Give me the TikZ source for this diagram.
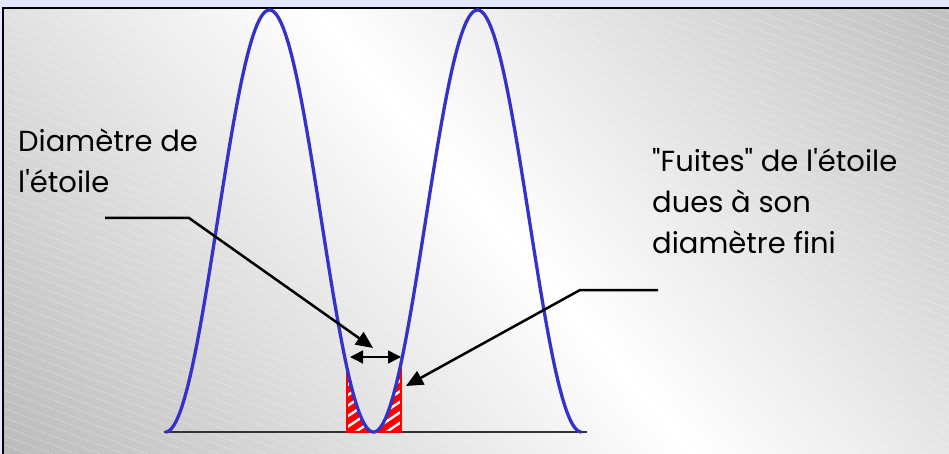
\documentclass[tikz,border=0pt]{standalone}
\usepackage{fontspec}
\setmainfont{Poppins}
\usetikzlibrary{arrows.meta}
\definecolor{topblue}{RGB}{226,232,252}
\definecolor{curveblue}{RGB}{51,51,204}
\definecolor{axisgray}{RGB}{50,50,50}
\pgfdeclarefunctionalshading{bgshade}{\pgfpointorigin}{\pgfpoint{100bp}{100bp}}{}{
0.002254 mul exch 0.005615 mul add 0.4017 sub abs 1.3 mul 1 exch sub dup 0.58 lt {pop 0.58} if dup dup
}
\tikzset{
  curveline/.style={draw=curveblue, line width=3.3pt, line join=round},
  bgline/.style={draw=white, line width=0.8pt, opacity=0.4, dash pattern=on 1.5pt off 1.5pt},
  pointer/.style={draw=black, line width=2.5pt, -{Triangle[length=17pt,width=15pt]}},
  dimarrow/.style={draw=black, line width=1.5pt, {Triangle[length=13pt,width=13pt]}-{Triangle[length=13pt,width=13pt]}},
  axisline/.style={draw=axisgray, line width=1.2pt},
  label/.style={inner sep=0pt, anchor=base west, font=\fontsize{29pt}{41pt}\selectfont},
  declare function={fr(\t)=432-422*sin((\t-165.5)*0.865385)*sin((\t-165.5)*0.865385);},
}
\begin{document}
\begin{tikzpicture}[x=1pt,y=-1pt]
\useasboundingbox (0,0) rectangle (949,454);
% outer strip
\fill[topblue] (0,0) rectangle (949,454);
% shaded panel
\shade[shading=bgshade] (3,8) rectangle (949,454);
\begin{scope}
  \clip (3,8) rectangle (949,454);
  \foreach \c in {-420,-411,...,460} {
    \draw[bgline] (3,\c) -- (949,\c+360);
  }
\end{scope}
\draw[line width=2.5pt] (3,456) -- (3,8) -- (951,8);
% axis
\coordinate (ax0) at (164,432);
\coordinate (ax1) at (587,432);
\draw[axisline] (ax0) -- (ax1);
% hatched leak regions
\begin{scope}
  \clip (347,432) -- plot[domain=347:401,samples=80] (\x,{fr(\x)}) -- (401,432) -- cycle;
  \fill[white] (340,360) rectangle (410,440);
  \foreach \c in {360,370.5,...,530} {
    \draw[red, line width=6pt] (330,\c) -- (420,\c-61);
  }
\end{scope}
\draw[red, line width=1.2pt] (347,368) -- (347,432) -- (401,432) -- (401,368);
% fringe curve
\draw[curveline] plot[domain=165.5:581.5,samples=300] (\x,{fr(\x)});
% double arrow (diameter)
\coordinate (dl) at (350,357);
\coordinate (dr) at (401,357);
\draw[dimarrow] (dl) -- (dr);
% pointers
\coordinate (lstart) at (105,218);
\coordinate (lbend) at (189,218);
\coordinate (ltip) at (373,348);
\draw[pointer] (lstart) -- (lbend) -- (ltip);
\coordinate (rstart) at (658,290);
\coordinate (rbend) at (580,290);
\coordinate (rtip) at (406,386);
\draw[pointer] (rstart) -- (rbend) -- (rtip);
% texts
\node[label] (d1) at (18,152) {Diamètre de};
\node[label] (d2) at (18,193) {l\textquotesingle étoile};
\node[label] (f1) at (652,172) {\textquotedbl Fuites\textquotedbl{} de l\textquotesingle étoile};
\node[label] (f2) at (652,213) {dues à son};
\node[label] (f3) at (652,253) {diamètre fini};
\end{tikzpicture}
\end{document}
